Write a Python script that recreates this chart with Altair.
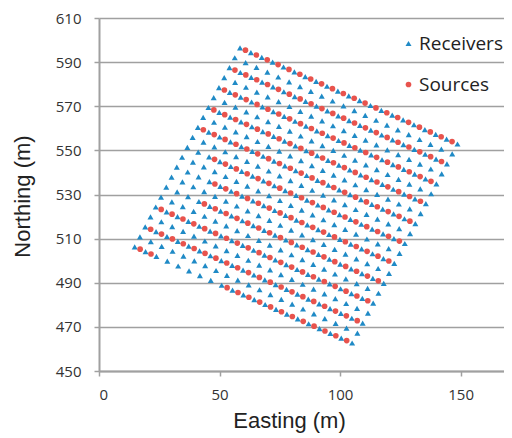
import altair as alt
import pandas as pd

# Map positions (m) of three corners of the survey square
corner_top = [58.5, 596.5]
corner_right = [148.7, 552.9]
corner_left = [14.8, 506.3]
survey_side_m = 100.0

# Survey layout in local metres (along the lines / across the lines)
receiver_lines_m = [0, 5, 10, 15, 20, 25, 30, 35, 40, 45, 50, 55, 60, 65, 70, 75, 80, 85, 90, 95, 100]
receiver_stations_m = [0, 5, 10, 15, 20, 25, 30, 35, 40, 45, 50, 55, 60, 65, 70, 75, 80, 85, 90, 95, 100]
source_lines_m = [0, 10, 20, 30, 40, 50, 60, 70, 80, 90, 100]
source_stations_m = [2.5, 7.5, 12.5, 17.5, 22.5, 27.5, 32.5, 37.5, 42.5, 47.5,
                     52.5, 57.5, 62.5, 67.5, 72.5, 77.5, 82.5, 87.5, 92.5, 97.5]
# first source station present on each source line
source_first_m = [2.5, 2.5, 2.5, 2.5, 2.5, 12.5, 17.5, 17.5, 2.5, 2.5, 2.5]
# stations left out on single lines: (line, from, to)
source_gap_line_m = [100]
source_gap_from_m = [12.5]
source_gap_to_m = [37.5]

legend_names = ["Receivers", "Sources"]
x_ticks = [0, 50, 100, 150]
y_ticks = [450, 470, 490, 510, 530, 550, 570, 590, 610]

along = [(corner_right[i] - corner_top[i]) / survey_side_m for i in range(2)]
across = [(corner_left[i] - corner_top[i]) / survey_side_m for i in range(2)]


def to_map(station, line):
    return (corner_top[0] + station * along[0] + line * across[0],
            corner_top[1] + station * along[1] + line * across[1])


rows = []
for line in receiver_lines_m:
    for st in receiver_stations_m:
        e, n = to_map(st, line)
        rows.append({"Easting": e, "Northing": n, "type": "Receivers"})
for k, line in enumerate(source_lines_m):
    for st in source_stations_m:
        if st < source_first_m[k]:
            continue
        skip = False
        for g, gl in enumerate(source_gap_line_m):
            if gl == line and source_gap_from_m[g] <= st <= source_gap_to_m[g]:
                skip = True
        if skip:
            continue
        e, n = to_map(st, line)
        rows.append({"Easting": e, "Northing": n, "type": "Sources"})

df = pd.DataFrame(rows)

chart = alt.Chart(df).mark_point(filled=True, opacity=1, strokeWidth=0).encode(
    x=alt.X("Easting:Q",
            scale=alt.Scale(domain=[0, 168], nice=False, zero=False),
            axis=alt.Axis(values=x_ticks, grid=False, title="Easting (m)",
                          labelBaseline="middle", labelPadding=18,
                          titleBaseline="alphabetic", titleY=56, titleX=190)),
    y=alt.Y("Northing:Q",
            scale=alt.Scale(domain=[450, 610], nice=False, zero=False),
            axis=alt.Axis(values=y_ticks, grid=True, title="Northing (m)",
                          labelPadding=13, titleAngle=270,
                          titleBaseline="alphabetic", titleX=-70, titleY=178)),
    color=alt.Color("type:N", scale=alt.Scale(domain=legend_names, range=["#1f8ac6", "#e8534d"]),
                    legend=alt.Legend(title=None, orient="none", legendX=300, legendY=16,
                                      padding=0, labelOffset=1, rowPadding=21,
                                      labelFont="Open Sans", labelFontSize=19,
                                      labelColor="#222222", symbolSize=30)),
    shape=alt.Shape("type:N", scale=alt.Scale(domain=legend_names, range=["triangle-up", "circle"])),
    size=alt.Size("type:N", scale=alt.Scale(domain=legend_names, range=[36, 32])),
    order=alt.Order("type:N"),
).properties(
    width=405, height=353,
    autosize=alt.AutoSizeParams(type="none"),
    padding={"left": 91, "top": 10, "right": 0, "bottom": 62},
).configure_view(stroke=None).configure_axis(
    domainColor="#a0a0a0", domainWidth=2, tickColor="#a0a0a0", tickWidth=1.5, tickSize=5,
    gridColor="#a0a0a0", gridWidth=1.6, gridOpacity=1,
    labelFont="Open Sans", labelFontSize=15, labelColor="#333333",
    titleFont="Liberation Sans", titleFontSize=22, titleFontWeight="normal", titleColor="#222222",
)

chart.save("out.html", embed_options={"renderer": "svg", "actions": False})
